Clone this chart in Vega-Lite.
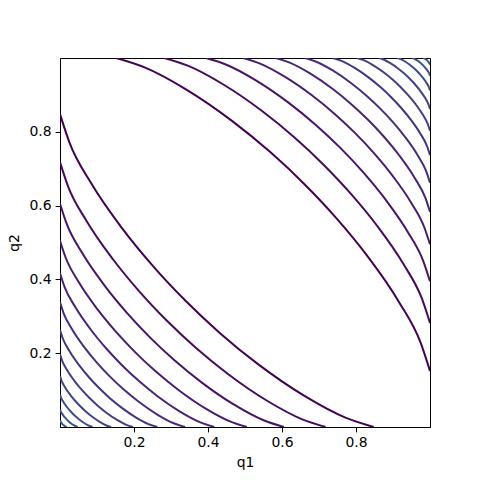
{
"$schema": "https://vega.github.io/schema/vega-lite/v6.json",
"width": 370, "height": 369,
"autosize": "none",
"padding": {"left": 60, "top": 58, "right": 48, "bottom": 53},
"background": "white",
"config": {
 "view": {"stroke": "black", "strokeWidth": 1},
 "axis": {"domainColor": "black", "tickColor": "black", "tickSize": 4.9, "labelPadding": 4, "labelFont": "DejaVu Sans", "labelFontSize": 13.9, "labelColor": "black", "titleFont": "DejaVu Sans", "titleFontSize": 13.9, "titleFontWeight": "normal", "titleColor": "black", "grid": false}
},
"data": {"values": [
{"s":"a1","c":1,"x":0,"y":0.848},{"s":"a1","c":1,"x":0.0254,"y":0.7713},{"s":"a1","c":1,"x":0.0848,"y":0.6596},{"s":"a1","c":1,"x":0.1696,"y":0.5361},{"s":"a1","c":1,"x":0.2544,"y":0.4325},{"s":"a1","c":1,"x":0.3406,"y":0.3406},{"s":"a1","c":1,"x":0.4325,"y":0.2544},{"s":"a1","c":1,"x":0.5361,"y":0.1696},{"s":"a1","c":1,"x":0.6596,"y":0.0848},{"s":"a1","c":1,"x":0.7713,"y":0.0254},{"s":"a1","c":1,"x":0.848,"y":0},
{"s":"b1","c":1,"x":1,"y":0.152},{"s":"b1","c":1,"x":0.9746,"y":0.2287},{"s":"b1","c":1,"x":0.9152,"y":0.3404},{"s":"b1","c":1,"x":0.8304,"y":0.4639},{"s":"b1","c":1,"x":0.7456,"y":0.5675},{"s":"b1","c":1,"x":0.6594,"y":0.6594},{"s":"b1","c":1,"x":0.5675,"y":0.7456},{"s":"b1","c":1,"x":0.4639,"y":0.8304},{"s":"b1","c":1,"x":0.3404,"y":0.9152},{"s":"b1","c":1,"x":0.2287,"y":0.9746},{"s":"b1","c":1,"x":0.152,"y":1},
{"s":"a2","c":2,"x":0,"y":0.718},{"s":"a2","c":2,"x":0.0215,"y":0.653},{"s":"a2","c":2,"x":0.0718,"y":0.5585},{"s":"a2","c":2,"x":0.1436,"y":0.4539},{"s":"a2","c":2,"x":0.2154,"y":0.3662},{"s":"a2","c":2,"x":0.2884,"y":0.2884},{"s":"a2","c":2,"x":0.3662,"y":0.2154},{"s":"a2","c":2,"x":0.4539,"y":0.1436},{"s":"a2","c":2,"x":0.5585,"y":0.0718},{"s":"a2","c":2,"x":0.653,"y":0.0215},{"s":"a2","c":2,"x":0.718,"y":0},
{"s":"b2","c":2,"x":1,"y":0.282},{"s":"b2","c":2,"x":0.9785,"y":0.347},{"s":"b2","c":2,"x":0.9282,"y":0.4415},{"s":"b2","c":2,"x":0.8564,"y":0.5461},{"s":"b2","c":2,"x":0.7846,"y":0.6338},{"s":"b2","c":2,"x":0.7116,"y":0.7116},{"s":"b2","c":2,"x":0.6338,"y":0.7846},{"s":"b2","c":2,"x":0.5461,"y":0.8564},{"s":"b2","c":2,"x":0.4415,"y":0.9282},{"s":"b2","c":2,"x":0.347,"y":0.9785},{"s":"b2","c":2,"x":0.282,"y":1},
{"s":"a3","c":3,"x":0,"y":0.605},{"s":"a3","c":3,"x":0.0182,"y":0.5502},{"s":"a3","c":3,"x":0.0605,"y":0.4706},{"s":"a3","c":3,"x":0.121,"y":0.3825},{"s":"a3","c":3,"x":0.1815,"y":0.3086},{"s":"a3","c":3,"x":0.243,"y":0.243},{"s":"a3","c":3,"x":0.3086,"y":0.1815},{"s":"a3","c":3,"x":0.3825,"y":0.121},{"s":"a3","c":3,"x":0.4706,"y":0.0605},{"s":"a3","c":3,"x":0.5502,"y":0.0182},{"s":"a3","c":3,"x":0.605,"y":0},
{"s":"b3","c":3,"x":1,"y":0.395},{"s":"b3","c":3,"x":0.9818,"y":0.4498},{"s":"b3","c":3,"x":0.9395,"y":0.5294},{"s":"b3","c":3,"x":0.879,"y":0.6175},{"s":"b3","c":3,"x":0.8185,"y":0.6914},{"s":"b3","c":3,"x":0.757,"y":0.757},{"s":"b3","c":3,"x":0.6914,"y":0.8185},{"s":"b3","c":3,"x":0.6175,"y":0.879},{"s":"b3","c":3,"x":0.5294,"y":0.9395},{"s":"b3","c":3,"x":0.4498,"y":0.9818},{"s":"b3","c":3,"x":0.395,"y":1},
{"s":"a4","c":4,"x":0,"y":0.505},{"s":"a4","c":4,"x":0.0152,"y":0.4593},{"s":"a4","c":4,"x":0.0505,"y":0.3928},{"s":"a4","c":4,"x":0.101,"y":0.3193},{"s":"a4","c":4,"x":0.1515,"y":0.2576},{"s":"a4","c":4,"x":0.2029,"y":0.2029},{"s":"a4","c":4,"x":0.2576,"y":0.1515},{"s":"a4","c":4,"x":0.3193,"y":0.101},{"s":"a4","c":4,"x":0.3928,"y":0.0505},{"s":"a4","c":4,"x":0.4593,"y":0.0152},{"s":"a4","c":4,"x":0.505,"y":0},
{"s":"b4","c":4,"x":1,"y":0.495},{"s":"b4","c":4,"x":0.9848,"y":0.5407},{"s":"b4","c":4,"x":0.9495,"y":0.6072},{"s":"b4","c":4,"x":0.899,"y":0.6807},{"s":"b4","c":4,"x":0.8485,"y":0.7424},{"s":"b4","c":4,"x":0.7971,"y":0.7971},{"s":"b4","c":4,"x":0.7424,"y":0.8485},{"s":"b4","c":4,"x":0.6807,"y":0.899},{"s":"b4","c":4,"x":0.6072,"y":0.9495},{"s":"b4","c":4,"x":0.5407,"y":0.9848},{"s":"b4","c":4,"x":0.495,"y":1},
{"s":"a5","c":5,"x":0,"y":0.417},{"s":"a5","c":5,"x":0.0125,"y":0.3793},{"s":"a5","c":5,"x":0.0417,"y":0.3243},{"s":"a5","c":5,"x":0.0834,"y":0.2636},{"s":"a5","c":5,"x":0.1251,"y":0.2127},{"s":"a5","c":5,"x":0.1675,"y":0.1675},{"s":"a5","c":5,"x":0.2127,"y":0.1251},{"s":"a5","c":5,"x":0.2636,"y":0.0834},{"s":"a5","c":5,"x":0.3243,"y":0.0417},{"s":"a5","c":5,"x":0.3793,"y":0.0125},{"s":"a5","c":5,"x":0.417,"y":0},
{"s":"b5","c":5,"x":1,"y":0.583},{"s":"b5","c":5,"x":0.9875,"y":0.6207},{"s":"b5","c":5,"x":0.9583,"y":0.6757},{"s":"b5","c":5,"x":0.9166,"y":0.7364},{"s":"b5","c":5,"x":0.8749,"y":0.7873},{"s":"b5","c":5,"x":0.8325,"y":0.8325},{"s":"b5","c":5,"x":0.7873,"y":0.8749},{"s":"b5","c":5,"x":0.7364,"y":0.9166},{"s":"b5","c":5,"x":0.6757,"y":0.9583},{"s":"b5","c":5,"x":0.6207,"y":0.9875},{"s":"b5","c":5,"x":0.583,"y":1},
{"s":"a6","c":6,"x":0,"y":0.338},{"s":"a6","c":6,"x":0.0101,"y":0.3074},{"s":"a6","c":6,"x":0.0338,"y":0.2629},{"s":"a6","c":6,"x":0.0676,"y":0.2137},{"s":"a6","c":6,"x":0.1014,"y":0.1724},{"s":"a6","c":6,"x":0.1358,"y":0.1358},{"s":"a6","c":6,"x":0.1724,"y":0.1014},{"s":"a6","c":6,"x":0.2137,"y":0.0676},{"s":"a6","c":6,"x":0.2629,"y":0.0338},{"s":"a6","c":6,"x":0.3074,"y":0.0101},{"s":"a6","c":6,"x":0.338,"y":0},
{"s":"b6","c":6,"x":1,"y":0.662},{"s":"b6","c":6,"x":0.9899,"y":0.6926},{"s":"b6","c":6,"x":0.9662,"y":0.7371},{"s":"b6","c":6,"x":0.9324,"y":0.7863},{"s":"b6","c":6,"x":0.8986,"y":0.8276},{"s":"b6","c":6,"x":0.8642,"y":0.8642},{"s":"b6","c":6,"x":0.8276,"y":0.8986},{"s":"b6","c":6,"x":0.7863,"y":0.9324},{"s":"b6","c":6,"x":0.7371,"y":0.9662},{"s":"b6","c":6,"x":0.6926,"y":0.9899},{"s":"b6","c":6,"x":0.662,"y":1},
{"s":"a7","c":7,"x":0,"y":0.263},{"s":"a7","c":7,"x":0.0079,"y":0.2392},{"s":"a7","c":7,"x":0.0263,"y":0.2046},{"s":"a7","c":7,"x":0.0526,"y":0.1663},{"s":"a7","c":7,"x":0.0789,"y":0.1341},{"s":"a7","c":7,"x":0.1056,"y":0.1056},{"s":"a7","c":7,"x":0.1341,"y":0.0789},{"s":"a7","c":7,"x":0.1663,"y":0.0526},{"s":"a7","c":7,"x":0.2046,"y":0.0263},{"s":"a7","c":7,"x":0.2392,"y":0.0079},{"s":"a7","c":7,"x":0.263,"y":0},
{"s":"b7","c":7,"x":1,"y":0.737},{"s":"b7","c":7,"x":0.9921,"y":0.7608},{"s":"b7","c":7,"x":0.9737,"y":0.7954},{"s":"b7","c":7,"x":0.9474,"y":0.8337},{"s":"b7","c":7,"x":0.9211,"y":0.8659},{"s":"b7","c":7,"x":0.8944,"y":0.8944},{"s":"b7","c":7,"x":0.8659,"y":0.9211},{"s":"b7","c":7,"x":0.8337,"y":0.9474},{"s":"b7","c":7,"x":0.7954,"y":0.9737},{"s":"b7","c":7,"x":0.7608,"y":0.9921},{"s":"b7","c":7,"x":0.737,"y":1},
{"s":"a8","c":8,"x":0,"y":0.197},{"s":"a8","c":8,"x":0.0059,"y":0.1792},{"s":"a8","c":8,"x":0.0197,"y":0.1532},{"s":"a8","c":8,"x":0.0394,"y":0.1245},{"s":"a8","c":8,"x":0.0591,"y":0.1005},{"s":"a8","c":8,"x":0.0791,"y":0.0791},{"s":"a8","c":8,"x":0.1005,"y":0.0591},{"s":"a8","c":8,"x":0.1245,"y":0.0394},{"s":"a8","c":8,"x":0.1532,"y":0.0197},{"s":"a8","c":8,"x":0.1792,"y":0.0059},{"s":"a8","c":8,"x":0.197,"y":0},
{"s":"b8","c":8,"x":1,"y":0.803},{"s":"b8","c":8,"x":0.9941,"y":0.8208},{"s":"b8","c":8,"x":0.9803,"y":0.8468},{"s":"b8","c":8,"x":0.9606,"y":0.8755},{"s":"b8","c":8,"x":0.9409,"y":0.8995},{"s":"b8","c":8,"x":0.9209,"y":0.9209},{"s":"b8","c":8,"x":0.8995,"y":0.9409},{"s":"b8","c":8,"x":0.8755,"y":0.9606},{"s":"b8","c":8,"x":0.8468,"y":0.9803},{"s":"b8","c":8,"x":0.8208,"y":0.9941},{"s":"b8","c":8,"x":0.803,"y":1},
{"s":"a9","c":9,"x":0,"y":0.138},{"s":"a9","c":9,"x":0.0041,"y":0.1255},{"s":"a9","c":9,"x":0.0138,"y":0.1073},{"s":"a9","c":9,"x":0.0276,"y":0.0872},{"s":"a9","c":9,"x":0.0414,"y":0.0704},{"s":"a9","c":9,"x":0.0554,"y":0.0554},{"s":"a9","c":9,"x":0.0704,"y":0.0414},{"s":"a9","c":9,"x":0.0872,"y":0.0276},{"s":"a9","c":9,"x":0.1073,"y":0.0138},{"s":"a9","c":9,"x":0.1255,"y":0.0041},{"s":"a9","c":9,"x":0.138,"y":0},
{"s":"b9","c":9,"x":1,"y":0.862},{"s":"b9","c":9,"x":0.9959,"y":0.8745},{"s":"b9","c":9,"x":0.9862,"y":0.8927},{"s":"b9","c":9,"x":0.9724,"y":0.9128},{"s":"b9","c":9,"x":0.9586,"y":0.9296},{"s":"b9","c":9,"x":0.9446,"y":0.9446},{"s":"b9","c":9,"x":0.9296,"y":0.9586},{"s":"b9","c":9,"x":0.9128,"y":0.9724},{"s":"b9","c":9,"x":0.8927,"y":0.9862},{"s":"b9","c":9,"x":0.8745,"y":0.9959},{"s":"b9","c":9,"x":0.862,"y":1},
{"s":"a10","c":10,"x":0,"y":0.088},{"s":"a10","c":10,"x":0.0026,"y":0.08},{"s":"a10","c":10,"x":0.0088,"y":0.0684},{"s":"a10","c":10,"x":0.0176,"y":0.0556},{"s":"a10","c":10,"x":0.0264,"y":0.0449},{"s":"a10","c":10,"x":0.0353,"y":0.0353},{"s":"a10","c":10,"x":0.0449,"y":0.0264},{"s":"a10","c":10,"x":0.0556,"y":0.0176},{"s":"a10","c":10,"x":0.0684,"y":0.0088},{"s":"a10","c":10,"x":0.08,"y":0.0026},{"s":"a10","c":10,"x":0.088,"y":0},
{"s":"b10","c":10,"x":1,"y":0.912},{"s":"b10","c":10,"x":0.9974,"y":0.92},{"s":"b10","c":10,"x":0.9912,"y":0.9316},{"s":"b10","c":10,"x":0.9824,"y":0.9444},{"s":"b10","c":10,"x":0.9736,"y":0.9551},{"s":"b10","c":10,"x":0.9647,"y":0.9647},{"s":"b10","c":10,"x":0.9551,"y":0.9736},{"s":"b10","c":10,"x":0.9444,"y":0.9824},{"s":"b10","c":10,"x":0.9316,"y":0.9912},{"s":"b10","c":10,"x":0.92,"y":0.9974},{"s":"b10","c":10,"x":0.912,"y":1},
{"s":"a11","c":11,"x":0,"y":0.048},{"s":"a11","c":11,"x":0.0014,"y":0.0437},{"s":"a11","c":11,"x":0.0048,"y":0.0373},{"s":"a11","c":11,"x":0.0096,"y":0.0303},{"s":"a11","c":11,"x":0.0144,"y":0.0245},{"s":"a11","c":11,"x":0.0193,"y":0.0193},{"s":"a11","c":11,"x":0.0245,"y":0.0144},{"s":"a11","c":11,"x":0.0303,"y":0.0096},{"s":"a11","c":11,"x":0.0373,"y":0.0048},{"s":"a11","c":11,"x":0.0437,"y":0.0014},{"s":"a11","c":11,"x":0.048,"y":0},
{"s":"b11","c":11,"x":1,"y":0.952},{"s":"b11","c":11,"x":0.9986,"y":0.9563},{"s":"b11","c":11,"x":0.9952,"y":0.9627},{"s":"b11","c":11,"x":0.9904,"y":0.9697},{"s":"b11","c":11,"x":0.9856,"y":0.9755},{"s":"b11","c":11,"x":0.9807,"y":0.9807},{"s":"b11","c":11,"x":0.9755,"y":0.9856},{"s":"b11","c":11,"x":0.9697,"y":0.9904},{"s":"b11","c":11,"x":0.9627,"y":0.9952},{"s":"b11","c":11,"x":0.9563,"y":0.9986},{"s":"b11","c":11,"x":0.952,"y":1},
{"s":"a12","c":12,"x":0,"y":0.018},{"s":"a12","c":12,"x":0.0018,"y":0.014},{"s":"a12","c":12,"x":0.0054,"y":0.0092},{"s":"a12","c":12,"x":0.0072,"y":0.0072},{"s":"a12","c":12,"x":0.0092,"y":0.0054},{"s":"a12","c":12,"x":0.014,"y":0.0018},{"s":"a12","c":12,"x":0.018,"y":0},
{"s":"b12","c":12,"x":1,"y":0.982},{"s":"b12","c":12,"x":0.9982,"y":0.986},{"s":"b12","c":12,"x":0.9946,"y":0.9908},{"s":"b12","c":12,"x":0.9928,"y":0.9928},{"s":"b12","c":12,"x":0.9908,"y":0.9946},{"s":"b12","c":12,"x":0.986,"y":0.9982},{"s":"b12","c":12,"x":0.982,"y":1}
]},
"mark": {"type": "line", "interpolate": "monotone", "strokeWidth": 2, "clip": true},
"encoding": {
 "x": {"field": "x", "type": "quantitative", "scale": {"domain": [0, 1], "nice": false, "zero": false}, "axis": {"values": [0.2, 0.4, 0.6, 0.8], "format": ".1f", "title": "q1", "titlePadding": 6}},
 "y": {"field": "y", "type": "quantitative", "scale": {"domain": [0, 1], "nice": false, "zero": false}, "axis": {"values": [0.2, 0.4, 0.6, 0.8], "format": ".1f", "title": "q2", "titlePadding": 8}},
 "color": {"field": "c", "type": "quantitative", "scale": {"scheme": {"name": "viridis", "extent": [0, 0.28]}, "domain": [1, 12]}, "legend": null},
 "detail": {"field": "s"}
}
}
